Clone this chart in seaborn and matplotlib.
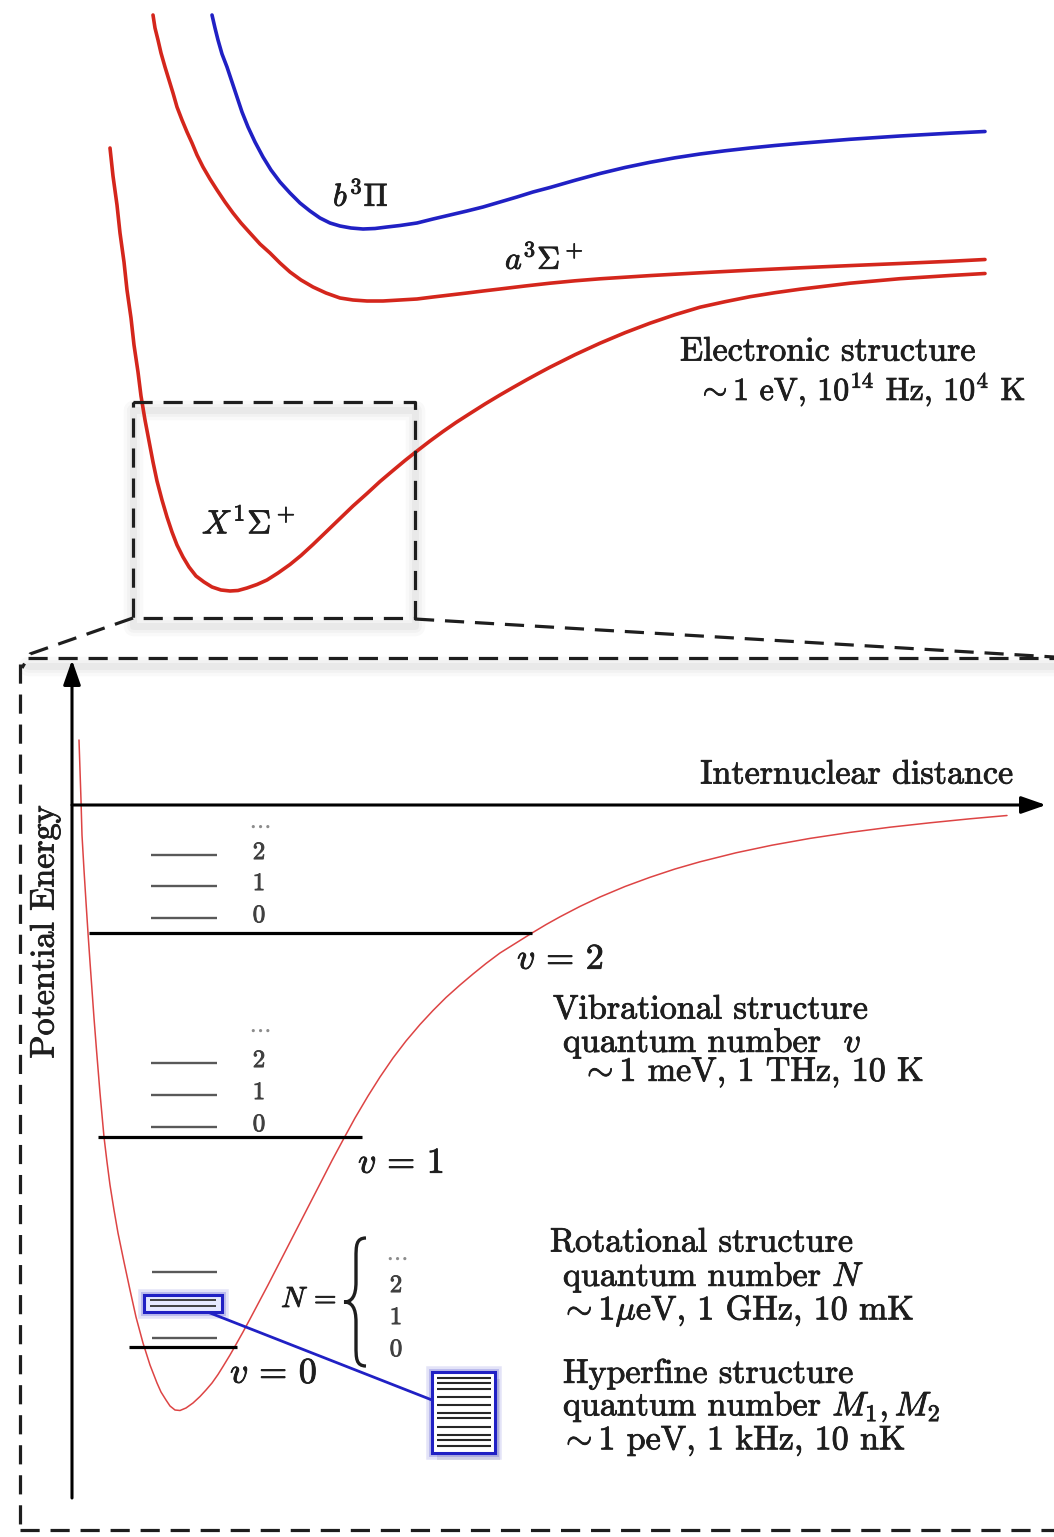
import matplotlib
matplotlib.use("Agg")
import matplotlib.pyplot as plt
import matplotlib.patheffects as pe
import seaborn as sns
from matplotlib.patches import Rectangle, PathPatch
from matplotlib.path import Path

sns.set_style("white")
plt.rcParams["font.family"] = ["cmr10", "DejaVu Serif"]
plt.rcParams["mathtext.fontset"] = "cm"
plt.rcParams["axes.formatter.use_mathtext"] = True

# ---------------------------------------------------------------------------
# Electronic potential curves (internuclear distance r, energy E; drawing units,
# E grows downward on the page)
# ---------------------------------------------------------------------------
b3pi_r = [212, 215, 218, 222, 227, 232, 237, 242, 248, 255, 263, 271, 280, 290,
          300, 310, 320, 330, 340, 351, 363, 375, 387, 400, 417, 433, 450, 467,
          483, 500, 517, 533, 550, 575, 600, 625, 650, 675, 700, 725, 750, 775,
          800, 850, 900, 950, 985]
b3pi_e = [15, 28, 40, 54, 67, 82, 97, 112, 127, 142, 157, 170, 182, 193,
          203, 211, 218, 223, 226, 228, 229, 228.5, 227, 225.5, 223, 219, 215, 211,
          207, 202, 197, 192, 187.5, 180.3, 173.5, 167.5, 162.3, 157.8, 154, 150.8,
          148, 145.5, 143.3, 139.3, 136, 133.2, 131.5]

a3sig_r = [153, 155, 158, 161, 165, 169, 173, 177, 182, 187, 192, 197, 203, 210,
           217, 225, 233, 241, 250, 260, 270, 280, 290, 301, 313, 326, 340, 353,
           367, 383, 400, 417, 433, 450, 467, 483, 500, 525, 550, 575, 600, 650,
           700, 750, 800, 850, 900, 950, 985]
a3sig_e = [15, 28, 40, 53, 67, 80, 93, 107, 120, 132, 143, 155, 167, 179,
           190, 202, 213, 223, 233, 244, 253, 263, 272, 280, 287, 293, 298, 300,
           301, 301, 300, 299, 297, 295, 293, 291, 289, 286, 283.2, 280.8, 278.8,
           275.6, 272.8, 270.2, 267.8, 265.6, 263.5, 261.3, 259.5]

x1sig_r = [110, 113, 117, 120, 124, 127, 131, 134, 138, 141, 145, 149, 153, 157,
           162, 167, 172, 177, 183, 189, 196, 204, 212, 221, 230, 238, 247, 257,
           267, 278, 290, 301, 313, 326, 340, 353, 367, 380, 393, 405, 417, 430,
           443, 456, 470, 485, 500, 513, 527, 538, 550, 575, 600, 625, 650, 675,
           700, 725, 750, 775, 800, 850, 900, 950, 985]
x1sig_e = [148, 176, 205, 233, 262, 290, 318, 345, 372, 396, 420, 441, 462, 481,
           500, 517, 532, 545, 557, 567, 576, 582, 587, 590, 591, 590.5, 588, 584.5,
           580, 573, 564.5, 555.5, 544.5, 532, 518.5, 506, 493.5, 481.5, 470.5,
           460.5, 451, 441, 431.5, 422.5, 413.5, 404, 395, 387.5, 379.6, 373.6,
           367.2, 354.7, 343.2, 332.7, 323.2, 314.7, 307.2, 301.7, 296.7, 292.7,
           289.2, 283.2, 278.7, 275.5, 273.5]

# Magnified ground-state well
well_r = [79, 80, 81, 82, 84, 86, 88, 90, 92, 94, 96.5, 100, 104, 107, 110, 114,
          118, 124, 130, 136, 143, 150, 157, 161, 166, 170, 175, 180, 186, 193,
          200, 206, 212, 218, 223, 230, 236, 243, 250, 259, 268, 277, 286, 295,
          304, 313, 322, 332, 343, 355, 368, 380, 393, 406, 420, 433, 446, 460,
          473, 486, 500, 516, 532, 546, 560, 580, 600, 625, 650, 675, 700, 736,
          772, 810, 850, 890, 930, 970, 1007]
well_e = [740, 770, 800, 835, 870, 902, 933, 962, 990, 1018, 1050, 1093, 1137,
          1162, 1185, 1210, 1233, 1262, 1290, 1317, 1343, 1365, 1383, 1392, 1400,
          1406, 1410, 1410.5, 1408, 1403, 1396.5, 1390, 1383, 1374.5, 1366.5,
          1355, 1344.5, 1332, 1319, 1302, 1285, 1267.5, 1250, 1232.5, 1215,
          1197.5, 1180, 1160.5, 1140, 1118, 1096, 1077, 1058, 1041, 1024.5,
          1010.5, 997.5, 985, 974, 963.5, 953, 943, 933, 924.6, 916.8, 906.4, 897,
          886.5, 877.3, 869, 861.8, 852.8, 845.2, 838.4, 832.4, 827.2, 822.8,
          818.8, 815.5]

# Vibrational levels v = 0, 1, 2
vib_labels = ["0", "1", "2"]
vib_e = [1347, 1137, 933]
vib_r_in = [129, 98, 89]
vib_r_out = [237, 362, 532]

# Rotational ladders N = 0, 1, 2 above each vibrational level
rot_labels = ["0", "1", "2"]
rot_e_v2 = [918, 886, 855]
rot_e_v1 = [1127, 1095, 1063]
rot_e_v0 = [1338, 1303, 1272]
rot_n1_split = [1300, 1306]

# Hyperfine sublevels inside the magnified N = 1 level
hfs_e = [1378, 1383, 1389, 1397, 1405, 1413, 1418, 1427, 1435, 1440, 1446]

# ---------------------------------------------------------------------------
RED = "#d4261c"
BLUE = "#2020c4"
INK = "#1e1e1e"
DASH = (0, (6, 3.4))

fig = plt.figure(figsize=(10.54, 15.37), dpi=100)
ax = fig.add_axes([0, 0, 1, 1])


def curve(r, e, color, lw):
    sns.lineplot(x=r, y=e, sort=False, estimator=None, color=color,
                 linewidth=lw, ax=ax, legend=False)


def label(x, y, s, size, color=INK, **kw):
    kw.setdefault("va", "center")
    t = ax.text(x, y, s, fontsize=size, color=color, **kw)
    t.set_path_effects([pe.withStroke(linewidth=0.6, foreground=color)])
    return t


def soft_shadow(xs, ys, dy=8):
    for w, a in [(14, 0.035), (9, 0.045), (5, 0.055)]:
        ax.plot(xs, [y + dy for y in ys], color="0.35", lw=w, alpha=a,
                solid_capstyle="round", zorder=1)


def dashed(xs, ys, shadow=True):
    if shadow:
        soft_shadow(xs, ys)
    ax.plot(xs, ys, color=INK, lw=2.3, ls=DASH, zorder=3)


# upper panel: potential curves
curve(b3pi_r, b3pi_e, BLUE, 2.6)
curve(a3sig_r, a3sig_e, RED, 2.6)
curve(x1sig_r, x1sig_e, RED, 2.6)

label(333, 196, r"$b^3\Pi$", 23)
label(505, 259, r"$a^3\Sigma^+$", 23)
label(202, 522, r"$X^1\Sigma^+$", 24)
label(680, 352, "Electronic structure", 24.5)
label(697, 390, r"$\sim1$ eV, $10^{14}$ Hz, $10^4$ K", 23)

# zoom frame and its projection onto the lower panel
dashed([133, 415, 415, 133, 133], [402, 402, 618, 618, 402])
dashed([133, 30, 22], [618, 654, 668], shadow=False)
dashed([415, 1054], [619, 657], shadow=False)
dashed([28, 1054], [658, 658])
dashed([20, 20], [664, 1530], shadow=False)
dashed([20, 1054], [1530, 1530], shadow=False)

# lower panel: axes
arrow = dict(arrowstyle="-|>,head_length=1.0,head_width=0.35", lw=2.2,
             color="black", shrinkA=0, shrinkB=0, mutation_scale=15)
ax.annotate("", xy=(1046, 805), xytext=(72, 805), arrowprops=arrow)
ax.annotate("", xy=(72, 660), xytext=(72, 1498), arrowprops=arrow)
label(1013, 775, "Internuclear distance", 24.5, ha="right")
label(45, 932, "Potential Energy", 24.5, rotation=90, ha="center")

curve(well_r, well_e, "#dd4444", 1.1)

# vibrational levels
ax.hlines(vib_e, vib_r_in, vib_r_out, color="black", lw=2.3, zorder=4)
for lab, e, r in zip(vib_labels, vib_e, [230, 358, 517]):
    label(r, e + 27, rf"$v\,=\,{lab}$", 26)

# rotational ladders
for es, dots_e in [(rot_e_v2, 826), (rot_e_v1, 1030)]:
    ax.hlines(es, 151, 217, color="0.35", lw=1.7, zorder=4)
    for lab, e in zip(rot_labels, es):
        label(259, e - 2, lab, 18, color="0.25", ha="center")
    ax.text(259, dots_e, r"$\cdots$", fontsize=18, color="0.55",
            ha="center", va="center")

ax.hlines([rot_e_v0[0], rot_e_v0[2]], 152, 217, color="0.35", lw=1.7, zorder=4)

# highlighted N = 1 level
for w, a in [(9, 0.12), (5, 0.2)]:
    ax.add_patch(Rectangle((144, 1295), 78, 17, fill=False, ec=BLUE, lw=w,
                           alpha=a, zorder=4))
ax.add_patch(Rectangle((144, 1295), 78, 17, fc="#e6e9ff", ec=BLUE, lw=2.2,
                       zorder=5))
ax.hlines(rot_n1_split, 150, 216, color="0.25", lw=1.4, zorder=6)

# link to the hyperfine manifold
ax.plot([205, 432], [1311, 1400], color=BLUE, lw=2.0, zorder=4)
ax.add_patch(Rectangle((437, 1379), 63, 81, fc="0.3", ec="none", alpha=0.12,
                       zorder=3))
for w, a in [(9, 0.12), (5, 0.2)]:
    ax.add_patch(Rectangle((432, 1372), 63, 81, fill=False, ec=BLUE, lw=w,
                           alpha=a, zorder=4))
ax.add_patch(Rectangle((432, 1372), 63, 81, fc="white", ec=BLUE, lw=2.2,
                       zorder=5))
ax.hlines(hfs_e, 437, 491, color="0.15", lw=1.5, zorder=6)

# N = { ... } brace
top, mid, bot = 1238, 1302, 1366
xr, xm, xl = 366, 356, 344
brace = Path(
    [(xr, top), (xm, top), (xm, top + 8), (xm, top + 20),
     (xm, mid - 20), (xm, mid - 6), (xm - 4, mid), (xl, mid),
     (xm - 4, mid), (xm, mid + 6), (xm, mid + 20),
     (xm, bot - 20), (xm, bot - 8), (xm, bot), (xr, bot)],
    [Path.MOVETO, Path.CURVE4, Path.CURVE4, Path.CURVE4,
     Path.LINETO, Path.CURVE4, Path.CURVE4, Path.CURVE4,
     Path.CURVE4, Path.CURVE4, Path.CURVE4,
     Path.LINETO, Path.CURVE4, Path.CURVE4, Path.CURVE4])
ax.add_patch(PathPatch(brace, fill=False, ec=INK, lw=2.4, zorder=4))
label(309, 1300, r"$N\,=$", 21, ha="center")
for lab, e in zip(rot_labels, [1350, 1318, 1286]):
    label(396, e, lab, 18, color="0.25", ha="center")
ax.text(396, 1258, r"$\cdots$", fontsize=18, color="0.55", ha="center",
        va="center")

# scale annotations
notes = [
    (553, 1010, "Vibrational structure"),
    (563, 1043, r"quantum number  $v$"),
    (581, 1073, r"$\sim1$ meV, 1 THz, 10 K"),
    (550, 1243, "Rotational structure"),
    (563, 1277, r"quantum number $N$"),
    (560, 1311, r"$\sim1\mu$eV, 1 GHz, 10 mK"),
    (563, 1374, "Hyperfine structure"),
    (563, 1407, r"quantum number $M_1, M_2$"),
    (560, 1441, r"$\sim1$ peV, 1 kHz, 10 nK"),
]
for x, y, s in notes:
    label(x, y, s, 24.5)

ax.set_xlim(0, 1054)
ax.set_ylim(1537, 0)
ax.axis("off")
fig.savefig("out.png", dpi=100, facecolor="white")
